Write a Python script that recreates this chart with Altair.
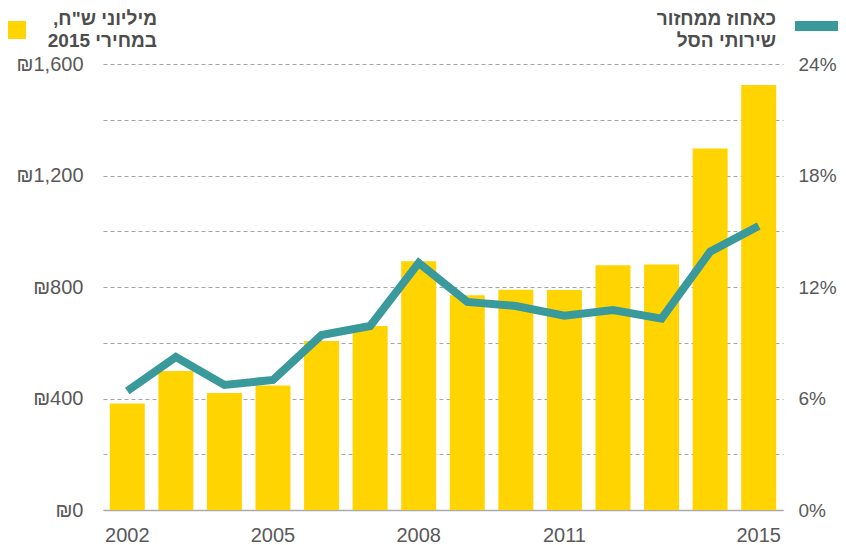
import altair as alt
import pandas as pd

years = [2002, 2003, 2004, 2005, 2006, 2007, 2008, 2009, 2010, 2011, 2012, 2013, 2014, 2015]
spend = [382, 499, 420, 447, 606, 660, 892, 770, 790, 789, 878, 881, 1297, 1525]
share = [0.064, 0.0823, 0.0673, 0.070, 0.0942, 0.099, 0.133, 0.112, 0.1098, 0.1046, 0.1076, 0.103, 0.139, 0.1528]
shown_years = [2002, 2005, 2008, 2011, 2015]

legend_left = ["\u200fמיליוני ש\"ח,\u200f", "\u200fבמחירי 2015\u200f"]
legend_right = ["כאחוז ממחזור", "שירותי הסל"]

df = pd.DataFrame({"year": years, "spend": spend, "share": share})

FONT = "Liberation Sans"
LABEL = "#595959"
LSIZE = 20

x_enc = alt.X(
    "year:O",
    scale=alt.Scale(paddingInner=0.28, paddingOuter=0.14),
    axis=alt.Axis(
        title=None,
        labelExpr="indexof([" + ",".join(str(y) for y in shown_years) + "], datum.value) >= 0 ? datum.label : ''",
        labelAngle=0,
        ticks=False,
        domainColor="#aaaaaa",
        domainWidth=1.5,
        labelPadding=15,
        labelFontSize=LSIZE,
        labelColor=LABEL,
        labelFont=FONT,
    ),
)

bars = alt.Chart(df).mark_bar(color="#FFD400").encode(
    x=x_enc,
    y=alt.Y(
        "spend:Q",
        scale=alt.Scale(domain=[0, 1600], nice=False),
        axis=alt.Axis(
            title=None,
            values=list(range(0, 1601, 200)),
            labelExpr="datum.value % 400 == 0 ? '₪' + format(datum.value, ',') : ''",
            grid=True,
            gridDash=[4, 3],
            gridColor="#a6a6a6",
            gridWidth=1,
            domain=False,
            ticks=False,
            labelPadding=20,
            labelFontSize=LSIZE,
            labelColor=LABEL,
            labelFont=FONT,
        ),
    ),
)

line = alt.Chart(df).mark_line(color="#3A9A9B", strokeWidth=8, strokeCap="butt", strokeJoin="miter").encode(
    x=alt.X("year:O"),
    y=alt.Y(
        "share:Q",
        scale=alt.Scale(domain=[0, 0.24], nice=False),
        axis=alt.Axis(
            title=None,
            orient="right",
            values=[i * 0.03 for i in range(9)],
            labelExpr="round(datum.value * 100) % 6 == 0 ? format(datum.value, '.0%') : ''",
            grid=False,
            domain=False,
            ticks=False,
            labelPadding=15,
            labelFontSize=19,
            labelColor=LABEL,
            labelFont=FONT,
        ),
    ),
)


def legend_text(lines, xpos):
    layers = []
    for i, t in enumerate(lines):
        layers.append(
            alt.Chart(pd.DataFrame({"t": [t]})).mark_text(
                align="right", baseline="middle", font=FONT, fontSize=19,
                fontWeight="bold", color="#4d4d4d"
            ).encode(x=alt.value(xpos), y=alt.value(-45 + 22 * i), text="t:N")
        )
    return layers


sq = alt.Chart(pd.DataFrame({"k": [0]})).mark_rect(color="#FFD400").encode(
    x=alt.value(-96), x2=alt.value(-77), y=alt.value(-43), y2=alt.value(-25)
)
bar_key = alt.Chart(pd.DataFrame({"k": [0]})).mark_rect(color="#3A9A9B").encode(
    x=alt.value(692), x2=alt.value(740), y=alt.value(-43), y2=alt.value(-33)
)

main = alt.layer(bars, line).resolve_scale(y="independent")

chart = alt.layer(
    main, sq, bar_key, *legend_text(legend_left, 54), *legend_text(legend_right, 673)
).properties(
    width=680, height=446,
    autosize=alt.AutoSizeParams(type="none"),
    padding={"left": 95, "top": 56, "right": 55, "bottom": 40},
).configure_view(stroke=None)

chart.save("out.html", embed_options={"renderer": "svg", "actions": False})
